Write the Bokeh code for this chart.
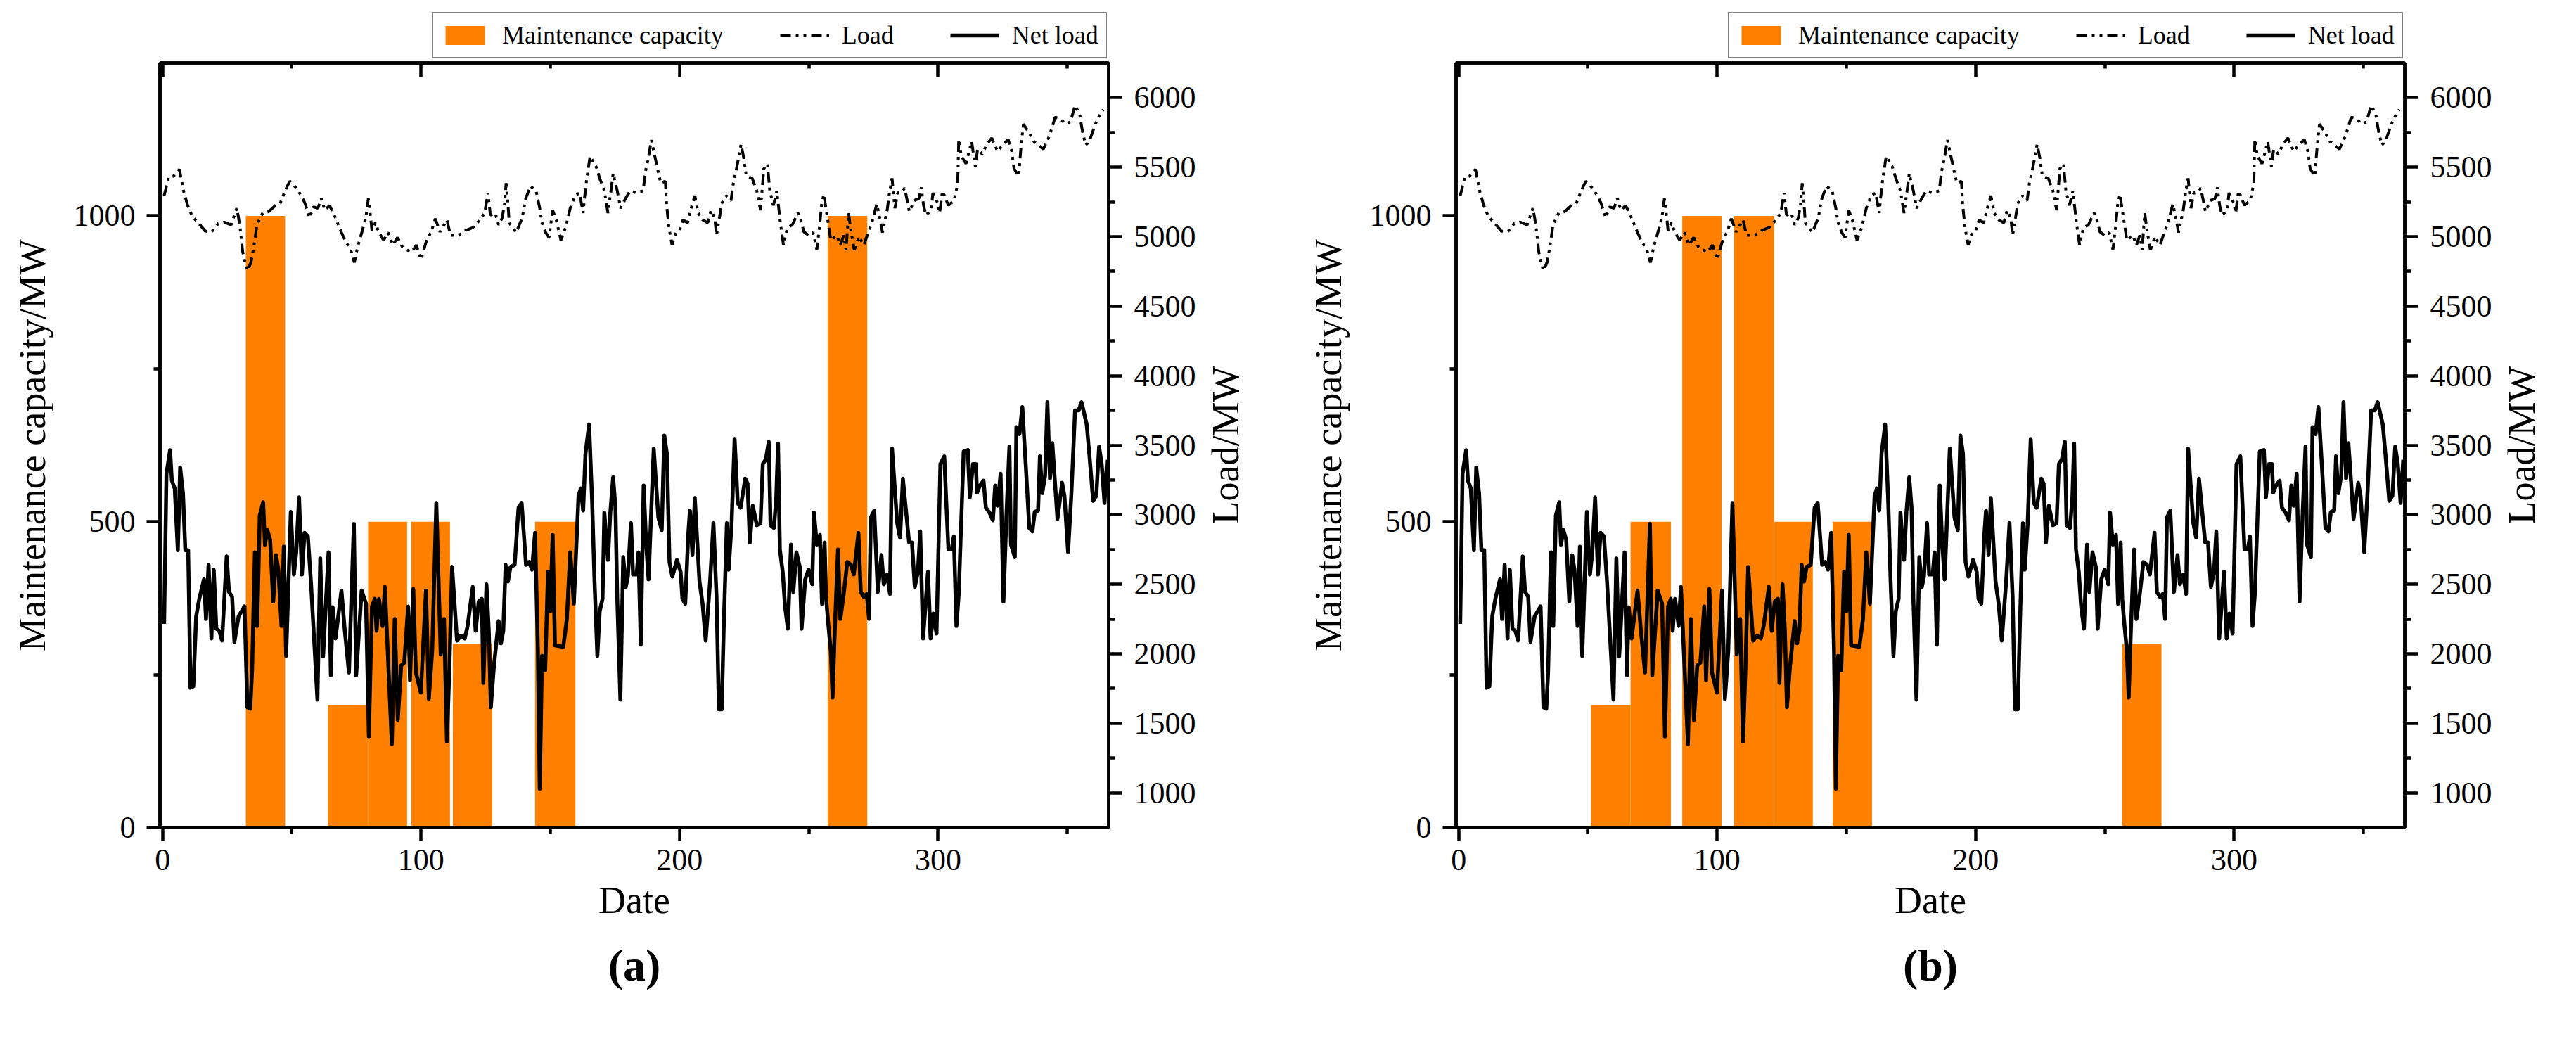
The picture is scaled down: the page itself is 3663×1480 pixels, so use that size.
import math
from bokeh.plotting import figure
from bokeh.models import (Range1d, LinearAxis, FixedTicker, Legend, LegendItem,
                          Title, CustomJSTickFormatter)
from bokeh.layouts import row, column
from bokeh.embed import file_html
from bokeh.resources import INLINE

FONT = "Liberation Serif"
ORANGE = "#FF8000"

# ---------------- data ----------------
# Maintenance schedule, panel (a)
a_start = [32.2, 64.0, 79.5, 96.2, 112.3, 144.1, 257.3]
a_end = [47.4, 79.5, 94.6, 111.2, 127.5, 159.7, 272.6]
a_capacity = [1000, 200, 500, 500, 300, 500, 1000]

# Maintenance schedule, panel (b)
b_start = [51.2, 66.5, 86.5, 106.5, 122.0, 144.7, 256.7]
b_end = [66.5, 82.1, 101.7, 122.0, 137.0, 159.9, 271.9]
b_capacity = [200, 500, 1000, 1000, 500, 500, 300]

# Load (MW)
load_day = [
    0.6, 2.4, 4.2, 6.5, 7.2, 8.1, 9.7, 11.5, 13.8, 16.5,
    19.2, 21.5, 23.8, 26.5, 28.7, 29.4, 30.1, 31.0, 31.9, 32.8,
    34.2, 35.4, 36.5, 38.7, 41.0, 43.7, 45.5, 47.4, 49.2, 51.5,
    53.7, 55.1, 56.9, 58.3, 60.1, 61.4, 62.8, 64.6, 66.9, 69.2,
    71.0, 72.8, 74.2, 75.5, 77.3, 78.7, 79.6, 80.0, 81.0, 82.3,
    83.7, 85.5, 87.3, 89.1, 90.9, 92.8, 94.6, 96.4, 98.2, 100.0,
    101.9, 104.1, 105.5, 107.3, 110.0, 111.4, 114.6, 117.3, 120.0, 121.8,
    124.6, 125.9, 126.8, 128.7, 130.0, 131.4, 132.3, 132.9, 133.6, 134.1,
    135.5, 136.8, 139.1, 140.5, 142.3, 144.5, 145.9, 146.8, 148.2, 149.5,
    150.9, 152.3, 154.1, 155.9, 157.7, 159.5, 161.3, 162.7, 163.2, 164.1,
    165.4, 167.7, 169.1, 170.9, 172.3, 173.6, 174.3, 175.9, 177.2, 179.1,
    180.9, 183.2, 185.9, 186.8, 187.7, 189.1, 190.0, 191.3, 192.7, 194.5,
    195.0, 195.9, 197.1, 198.6, 200.0, 201.3, 203.1, 204.5, 205.9, 207.2,
    209.0, 210.9, 212.2, 213.6, 214.3, 215.4, 216.3, 218.1, 219.9, 220.8,
    222.2, 223.8, 224.9, 225.8, 228.1, 229.9, 231.3, 232.6, 234.0, 234.9,
    236.3, 237.6, 239.0, 240.2, 241.7, 243.6, 245.8, 246.7, 248.1, 249.9,
    251.7, 253.1, 254.3, 254.9, 255.8, 257.2, 258.5, 260.8, 262.2, 263.5,
    264.4, 265.4, 266.3, 267.6, 269.4, 271.3, 272.6, 274.4, 276.3, 277.6,
    278.5, 280.3, 281.3, 282.2, 283.3, 284.4, 285.8, 287.1, 288.9, 290.8,
    292.6, 293.5, 294.4, 295.3, 297.3, 298.0, 299.9, 300.6, 301.7, 304.0,
    306.2, 307.6, 308.0, 309.0, 310.8, 313.0, 314.4, 315.3, 317.1, 318.9,
    320.8, 323.0, 325.3, 327.1, 328.5, 329.4, 331.2, 332.1, 333.0, 335.3,
    337.1, 340.7, 343.0, 345.3, 347.5, 349.4, 351.2, 353.0, 354.8, 355.7,
    357.1, 358.5, 359.8, 361.6, 363.9,
]
load_mw = [
    5295, 5430, 5435, 5485, 5420, 5330, 5225, 5145, 5100, 5040,
    5040, 5095, 5105, 5085, 5205, 5135, 5045, 4890, 4815, 4755,
    4815, 4940, 5085, 5170, 5180, 5225, 5240, 5330, 5400, 5355,
    5295, 5240, 5135, 5215, 5205, 5275, 5190, 5225, 5135, 5030,
    4960, 4905, 4815, 4930, 5045, 5145, 5275, 5225, 5045, 5100,
    5030, 4975, 5030, 4940, 4995, 4925, 4905, 4890, 4940, 4835,
    4960, 5045, 5130, 5035, 5120, 5010, 5010, 5045, 5065, 5100,
    5170, 5315, 5155, 5170, 5085, 5135, 5240, 5385, 5240, 5100,
    5065, 5030, 5135, 5275, 5365, 5330, 5205, 5100, 5030, 4995,
    5190, 5120, 4975, 5065, 5205, 5295, 5315, 5170, 5275, 5420,
    5580, 5505, 5420, 5330, 5170, 5350, 5455, 5330, 5205, 5275,
    5330, 5315, 5330, 5470, 5545, 5695, 5615, 5505, 5385, 5400,
    5225, 5065, 4940, 5030, 5045, 5120, 5100, 5205, 5295, 5170,
    5120, 5100, 5190, 5135, 5010, 5135, 5240, 5295, 5260, 5385,
    5505, 5665, 5560, 5435, 5420, 5330, 5190, 5490, 5525, 5330,
    5225, 5330, 5100, 4940, 5065, 5085, 5170, 5135, 5035, 5010,
    5030, 4905, 5100, 5225, 5305, 5135, 4975, 5010, 4940, 5010,
    4905, 5170, 5045, 4905, 5000, 4940, 5010, 5100, 5235, 5120,
    5030, 5190, 5330, 5420, 5205, 5315, 5320, 5350, 5180, 5260,
    5275, 5355, 5225, 5155, 5190, 5315, 5240, 5170, 5330, 5225,
    5260, 5385, 5700, 5580, 5525, 5685, 5505, 5630, 5595, 5665,
    5710, 5615, 5665, 5700, 5615, 5490, 5435, 5650, 5810, 5745,
    5685, 5630, 5720, 5860, 5845, 5810, 5825, 5945, 5880, 5775,
    5660, 5685, 5755, 5845, 5915,
]

# Net load (MW)
net_day = [
    0.6, 1.5, 2.9, 3.6, 4.7, 5.9, 6.8, 7.9, 8.8, 9.9,
    10.8, 11.9, 13.0, 14.2, 15.1, 16.0, 16.8, 17.8, 18.9, 19.8,
    20.8, 21.9, 23.0, 24.8, 25.7, 26.9, 27.8, 29.4, 31.7, 32.8,
    33.9, 34.6, 35.7, 36.6, 37.6, 38.9, 39.6, 40.5, 41.6, 42.8,
    43.9, 44.8, 46.0, 46.9, 47.8, 49.6, 50.8, 51.7, 52.8, 53.9,
    54.9, 56.2, 57.4, 59.9, 61.0, 62.1, 64.2, 65.1, 65.8, 66.9,
    69.2, 70.5, 72.1, 74.0, 74.9, 77.0, 78.7, 79.8, 81.0, 82.1,
    82.8, 83.7, 85.1, 86.0, 88.7, 89.8, 91.0, 92.3, 93.5, 95.0,
    95.7, 97.0, 98.0, 99.9, 101.9, 103.0, 104.3, 105.9, 107.6, 108.9,
    110.0, 110.9, 112.0, 113.9, 115.5, 116.9, 118.0, 120.0, 121.1, 122.3,
    123.5, 124.1, 125.3, 126.2, 127.0, 128.2, 130.0, 130.9, 131.8, 132.7,
    133.6, 134.6, 136.2, 137.7, 138.9, 140.6, 141.8, 142.9, 144.1, 145.2,
    145.9, 146.8, 148.0, 149.1, 150.0, 150.9, 151.8, 155.0, 156.4, 157.7,
    159.1, 160.9, 161.8, 162.7, 163.6, 165.0, 166.2, 167.1, 168.2, 169.1,
    170.2, 170.9, 172.3, 173.2, 174.3, 175.2, 175.9, 177.1, 178.2, 179.2,
    180.0, 181.2, 182.0, 183.4, 184.1, 185.0, 186.1, 187.1, 188.0, 190.0,
    191.8, 193.1, 194.1, 195.1, 196.1, 197.2, 199.0, 200.4, 201.1, 202.2,
    203.4, 204.0, 205.0, 205.9, 207.7, 208.9, 210.1, 211.8, 213.1, 214.3,
    215.2, 216.3, 217.2, 218.3, 219.0, 220.1, 221.3, 222.5, 223.6, 225.4,
    226.3, 227.2, 228.3, 229.9, 231.3, 232.2, 233.4, 234.5, 235.2, 236.5,
    237.4, 238.1, 238.8, 239.9, 240.8, 241.9, 243.1, 244.0, 245.2, 246.5,
    247.2, 248.6, 249.9, 251.3, 252.0, 253.1, 254.3, 255.1, 256.1, 256.7,
    257.6, 258.5, 259.2, 260.1, 261.3, 262.2, 263.5, 264.9, 266.3, 267.4,
    269.2, 270.1, 271.3, 272.4, 273.3, 274.0, 275.3, 276.7, 278.1, 279.0,
    280.3, 281.4, 282.2, 284.2, 285.3, 286.4, 288.8, 289.9, 291.0, 292.2,
    293.1, 294.2, 296.1, 297.1, 298.2, 299.4, 300.9, 302.4, 304.0, 305.3,
    306.1, 307.1, 308.0, 309.9, 311.5, 312.3, 313.5, 314.6, 315.1, 316.2,
    317.6, 318.5, 319.9, 321.2, 322.1, 323.0, 324.2, 325.3, 326.5, 327.6,
    328.2, 329.7, 330.3, 331.5, 332.6, 333.9, 335.3, 336.5, 337.4, 338.7,
    339.4, 340.3, 341.4, 342.3, 343.3, 344.2, 346.2, 348.0, 348.9, 350.3,
    351.6, 353.0, 354.4, 355.5, 357.5, 358.5, 360.0, 361.2, 362.3, 363.3,
    364.4, 365.4,
]
net_mw = [
    2215, 3295, 3465, 3245, 3190, 2745, 3340, 3155, 2745, 2745,
    1755, 1765, 2270, 2395, 2465, 2535, 2250, 2640, 2110, 2605,
    2180, 2165, 2095, 2700, 2445, 2410, 2085, 2270, 2340, 1615,
    1605, 1865, 2730, 2200, 2995, 3090, 2785, 2890, 2820, 2375,
    2710, 2605, 2200, 2770, 1985, 3020, 2570, 2730, 3125, 2570,
    2870, 2845, 2515, 1670, 2685, 1980, 2730, 1845, 2335, 2110,
    2455, 2165, 1865, 2935, 1845, 2455, 2360, 1405, 2340, 2395,
    2165, 2395, 2200, 2480, 1350, 2250, 1525, 1915, 1935, 2340,
    1810, 2465, 1865, 1720, 2455, 1675, 2020, 3085, 1995, 2250,
    1370, 1865, 2625, 2095, 2130, 2110, 2200, 2480, 2165, 2375,
    2395, 1790, 2500, 2165, 1615, 1915, 2235, 2075, 2165, 2640,
    2520, 2625, 2640, 3050, 3085, 2640, 2660, 2605, 2870, 2020,
    1030, 1985, 1880, 2590, 2305, 2855, 2060, 2050, 2250, 2730,
    2360, 3135, 3190, 3030, 3440, 3650, 3085, 2520, 1985, 2305,
    2395, 3015, 2675, 3015, 3270, 3050, 2395, 1670, 2695, 2480,
    2555, 2940, 2570, 2570, 2730, 2065, 3210, 2785, 2535, 3475,
    2980, 2890, 3570, 3440, 2660, 2555, 2675, 2590, 2395, 2360,
    2870, 3030, 2710, 3120, 2520, 2360, 2095, 2520, 2940, 2410,
    1600, 1600, 2270, 2940, 2605, 2925, 3545, 3085, 3050, 3260,
    3225, 2800, 3065, 2925, 2940, 3365, 3400, 3525, 2925, 2905,
    3120, 3510, 2750, 2590, 2340, 2180, 2785, 2445, 2730, 2625,
    2180, 2535, 2605, 2500, 3015, 2785, 2855, 2360, 2800, 2395,
    2200, 2020, 1685, 2200, 2750, 2250, 2430, 2660, 2640, 2570,
    2870, 2445, 2410, 2430, 2250, 2980, 3030, 2445, 2710, 2500,
    2570, 2430, 3475, 2940, 2835, 3260, 2800, 2800, 2480, 2590,
    2880, 2110, 2590, 2110, 2290, 2145, 3365, 3420, 2750, 2750,
    2845, 2200, 2430, 3455, 3465, 3125, 3365, 3365, 3160, 3210,
    3245, 3050, 3015, 2960, 3210, 3065, 3295, 2375, 3015, 3490,
    2785, 2695, 3630, 3580, 3775, 3365, 2905, 2880, 3020, 3030,
    3420, 3155, 3280, 3810, 3260, 3515, 2970, 3230, 3135, 2730,
    3160, 3750, 3750, 3810, 3650, 3440, 3100, 3135, 3490, 3365,
    3085, 3395,
]

x_major = [0, 100, 200, 300]
x_minor = [50, 150, 250, 350]
cap_major = [0, 500, 1000]
cap_minor = [250, 750]
load_major = list(range(1000, 6001, 500))
load_minor = list(range(1250, 6000, 500))

assert len(load_day) == len(load_mw)
assert len(net_day) == len(net_mw)

LOAD_STYLE = dict(line_color="black", line_width=4, line_dash="15 7 4 7 4 7")
NET_STYLE = dict(line_color="black", line_width=5.5, line_join="round")
BAR_STYLE = dict(fill_color=ORANGE, line_color=None)

PANEL_H = 1378
BOTTOM_BORDER = 288


def style_axis(ax, tick_out=True):
    ax.axis_line_width = 4.5
    ax.axis_line_color = "black"
    ax.major_tick_line_width = 4.5
    ax.minor_tick_line_width = 4.5
    ax.major_tick_line_color = "black"
    ax.minor_tick_line_color = "black"
    if tick_out:
        ax.major_tick_out = 19
        ax.major_tick_in = 0
        ax.minor_tick_out = 9
        ax.minor_tick_in = 0
    else:
        ax.major_tick_out = 0
        ax.major_tick_in = 20
        ax.minor_tick_out = 0
        ax.minor_tick_in = 8
    ax.major_label_text_font = FONT
    ax.major_label_text_font_size = "44px"
    ax.major_label_text_color = "black"
    ax.axis_label_text_font = FONT
    ax.axis_label_text_font_size = "54px"
    ax.axis_label_text_font_style = "normal"
    ax.axis_label_text_color = "black"


def make_legend_strip(width, starts, ends, caps):
    # slim strip above each panel that only holds the legend; its renderers
    # use the chart's own data but the view range keeps them out of sight
    lf = figure(width=width, height=86, output_backend="svg", toolbar_location=None,
                title=None, x_axis_type=None, y_axis_type=None, min_border=0,
                x_range=Range1d(1000, 1001), y_range=Range1d(100000, 100001))
    lf.outline_line_color = None
    lf.background_fill_color = "white"
    lf.border_fill_color = "white"
    r_bar = lf.quad(left=starts, right=ends, bottom=0, top=caps, **BAR_STYLE)
    r_load = lf.line(load_day, load_mw, **LOAD_STYLE)
    r_net = lf.line(net_day, net_mw, **NET_STYLE)
    legend = Legend(items=[
        LegendItem(label="Maintenance capacity", renderers=[r_bar]),
        LegendItem(label="Load", renderers=[r_load]),
        LegendItem(label="Net load", renderers=[r_net]),
    ], orientation="horizontal", location=(614, 3))
    legend.label_text_font = FONT
    legend.label_text_font_size = "36px"
    legend.label_text_color = "black"
    legend.glyph_width = 70
    legend.glyph_height = 34
    legend.label_height = 34
    legend.label_standoff = 18
    legend.spacing = 80
    legend.padding = 10
    legend.margin = 0
    legend.border_line_color = "black"
    legend.border_line_width = 2
    legend.background_fill_color = "white"
    legend.background_fill_alpha = 1.0
    lf.add_layout(legend)
    return lf


def make_right_title(width):
    # narrow strip right of a panel carrying the "Load/MW" axis title
    # (reading bottom-to-top like the reference)
    tf = figure(width=width, height=PANEL_H, output_backend="svg", toolbar_location=None,
                title=None, x_axis_type=None, y_axis_type=None,
                min_border_left=0, min_border_right=0,
                min_border_top=3, min_border_bottom=BOTTOM_BORDER,
                x_range=Range1d(0, 1), y_range=Range1d(0, 1))
    tf.outline_line_color = None
    tf.background_fill_color = "white"
    tf.border_fill_color = "white"
    tf.add_layout(Title(text="Load/MW", align="center", text_font=FONT,
                        text_font_size="54px", text_font_style="normal",
                        text_color="black", standoff=4), "left")
    return tf


def make_panel(starts, ends, caps, tag, width, border_right):
    p = figure(width=width, height=PANEL_H, output_backend="svg", toolbar_location=None,
               title=None,
               x_range=Range1d(-1, 366), y_range=Range1d(0, 1250),
               min_border_left=227, min_border_right=border_right,
               min_border_top=0, min_border_bottom=BOTTOM_BORDER)
    p.extra_y_ranges = {"load": Range1d(750, 6250)}
    p.grid.visible = False
    p.outline_line_color = "black"
    p.outline_line_width = 4.5
    p.background_fill_color = "white"
    p.border_fill_color = "white"

    p.quad(left=starts, right=ends, bottom=0, top=caps, **BAR_STYLE)
    p.line(load_day, load_mw, y_range_name="load", **LOAD_STYLE)
    p.line(net_day, net_mw, y_range_name="load", **NET_STYLE)

    xa = p.xaxis[0]
    xa.ticker = FixedTicker(ticks=x_major, minor_ticks=x_minor)
    xa.axis_label = "Date"
    style_axis(xa)
    xa.major_label_standoff = 12
    xa.axis_label_standoff = 10

    ya = p.yaxis[0]
    ya.ticker = FixedTicker(ticks=cap_major, minor_ticks=cap_minor)
    ya.axis_label = "Maintenance capacity/MW"
    style_axis(ya)
    ya.major_label_standoff = 16
    ya.axis_label_standoff = 26

    ra = LinearAxis(y_range_name="load",
                    ticker=FixedTicker(ticks=load_major, minor_ticks=load_minor))
    style_axis(ra)
    ra.major_label_standoff = 17
    p.add_layout(ra, "right")

    # top frame ticks (pointing inward, no labels)
    ta = LinearAxis(ticker=FixedTicker(ticks=x_major, minor_ticks=x_minor),
                    formatter=CustomJSTickFormatter(code="return ''"))
    style_axis(ta, tick_out=False)
    ta.major_label_text_font_size = "1px"
    ta.major_label_standoff = 0
    p.add_layout(ta, "above")

    # panel tag below the axis title
    p.add_layout(Title(text="(%s)" % tag, align="center", text_font=FONT,
                       text_font_size="64px", text_font_style="bold",
                       text_color="black", standoff=45), "below")
    return p


PANEL_W = 1708
pa = make_panel(a_start, a_end, a_capacity, "a", PANEL_W, PANEL_W - 227 - 1349)
pb = make_panel(b_start, b_end, b_capacity, "b", PANEL_W, PANEL_W - 227 - 1349)
ta_fig = make_right_title(1843 - PANEL_W)
tb_fig = make_right_title(1800 - PANEL_W)
la = make_legend_strip(1843, a_start, a_end, a_capacity)
lb = make_legend_strip(1800, b_start, b_end, b_capacity)

layout = column(row(la, lb), row(pa, ta_fig, pb, tb_fig))
open("out.html", "w").write(file_html(layout, INLINE))
